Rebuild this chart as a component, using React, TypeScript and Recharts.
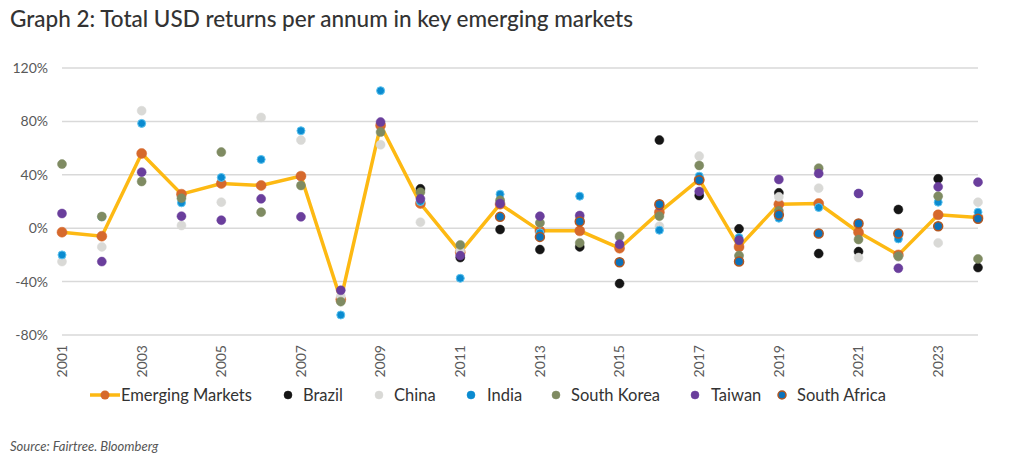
import React from "react";
import { ComposedChart, Line, XAxis, YAxis, CartesianGrid } from "recharts";

const years = [2001, 2002, 2003, 2004, 2005, 2006, 2007, 2008, 2009, 2010, 2011, 2012, 2013, 2014, 2015, 2016, 2017, 2018, 2019, 2020, 2021, 2022, 2023, 2024];
const emergingMarkets = [-3, -6, 56, 25.5, 33.5, 32, 39, -53.5, 77, 18.5, -18, 18, -2, -2, -15, 12, 36.5, -14, 18, 18.5, -3, -20, 10, 8];
const brazil: (number | null)[] = [null, null, null, null, null, null, null, null, null, 29.5, -22, -1, -16, -14, -41.5, 66, 24.5, -0.5, 26.5, -19, -17.5, 14, 37, -29.5];
const china = [-25, -14, 88, 2, 19.5, 83, 66, -51, 62.5, 4.5, -17, 20, 4, 8, -7, 1.5, 54, -21, 23.5, 30, -22, -21.5, -11, 19.5];
const india = [-20, 8.5, 78.5, 19, 38, 51.5, 73, -65, 103, 20, -37.5, 25.5, -3.5, 24, -25.5, -1.5, 39, -7, 7.5, 15.5, 26, -8, 19.5, 12];
const southKorea = [48, 8.75, 35, 22.5, 57, 12, 32, -55, 72, 27, -12.5, 21, 4, -11, -6, 9, 47, -20.5, 13, 45, -8.5, -21, 24, -23];
const taiwan = [11, -25, 42, 9, 6, 22, 8.5, -46.5, 79.5, 22, -20.5, 18.5, 9, 9.5, -12, 17, 27.5, -9, 36.5, 41, 26, -30, 31, 34.5];
const southAfrica: (number | null)[] = [null, null, null, null, null, null, null, null, null, null, null, 8.5, -6.5, 5, -25.5, 18, 36, -25, 10, -4, 3.5, -4, 1.5, 7];
const yTicks = [-80, -40, 0, 40, 80, 120];
const xTicks = [2001, 2003, 2005, 2007, 2009, 2011, 2013, 2015, 2017, 2019, 2021, 2023];

const data = years.map((y, i) => ({
  year: y,
  em: emergingMarkets[i],
  brazil: brazil[i],
  china: china[i],
  india: india[i],
  southKorea: southKorea[i],
  taiwan: taiwan[i],
  southAfrica: southAfrica[i],
}));

const FONT = "Lato, 'Open Sans', sans-serif";

const C = {
  emLine: "#FDB913",
  emDot: "#D6692C",
  brazil: "#151515",
  china: "#D9D9D6",
  india: "#0A8BD0",
  southKorea: "#7F8B62",
  taiwan: "#6A3E9C",
  saFill: "#0C72BA",
  saStroke: "#B3561F",
};

const XTick = (props: any) => {
  const { x, y, payload } = props;
  return (
    <text
      x={x}
      y={y}
      transform={`rotate(-90, ${x}, ${y})`}
      textAnchor="end"
      dy="0.35em"
      fill="#595959"
      fontSize={14}
      fontFamily={FONT}
    >
      {payload.value}
    </text>
  );
};

const legendItems = [
  { name: "Emerging Markets", dot: 105, text: 121, line: true },
  { name: "Brazil", dot: 288, text: 303, fill: C.brazil },
  { name: "China", dot: 379, text: 394, fill: C.china },
  { name: "India", dot: 471, text: 487, fill: C.india },
  { name: "South Korea", dot: 556, text: 571, fill: C.southKorea },
  { name: "Taiwan", dot: 695, text: 711, fill: C.taiwan },
  { name: "South Africa", dot: 782, text: 797, fill: C.saFill, stroke: C.saStroke },
];

const LEG_Y = 395;

export default function App() {
  return (
    <div style={{ position: "absolute", left: 0, top: 0, width: 1014, height: 465, background: "#fff", fontFamily: FONT }}>
      <div style={{ position: "absolute", left: 10, top: 5, fontSize: 22.5, lineHeight: "28px", color: "#333", fontWeight: 500, whiteSpace: "nowrap" }}>
        Graph 2: Total USD returns per annum in key emerging markets
      </div>
      <ComposedChart width={1014} height={465} data={data} margin={{ top: 68, right: 36, bottom: 90, left: 0 }}>
        <CartesianGrid vertical={false} stroke="#D9D9D9" strokeWidth={1.5} />
        <XAxis
          dataKey="year"
          type="number"
          domain={[2001, 2024]}
          ticks={xTicks}
          interval={0}
          axisLine={false}
          tickLine={false}
          height={40}
          tick={<XTick />}
          tickMargin={4}
        />
        <YAxis
          domain={[-80, 120]}
          ticks={yTicks}
          width={62}
          axisLine={false}
          tickLine={false}
          tickMargin={8}
          tickFormatter={(v: number) => `${v}%`}
          tick={{ fill: "#595959", fontSize: 14, fontFamily: FONT }}
        />
        <Line dataKey="em" stroke={C.emLine} strokeWidth={3.5} dot={{ r: 5, fill: C.emDot, stroke: C.emDot, strokeWidth: 0.5 }} activeDot={false} isAnimationActive={false} />
        <Line dataKey="brazil" stroke="none" dot={{ r: 4.5, fill: C.brazil, stroke: C.brazil, strokeWidth: 0.5 }} activeDot={false} isAnimationActive={false} />
        <Line dataKey="china" stroke="none" dot={{ r: 4.5, fill: C.china, stroke: C.china, strokeWidth: 0.5 }} activeDot={false} isAnimationActive={false} />
        <Line dataKey="india" stroke="none" dot={{ r: 4, fill: C.india, stroke: "#5EC3EE", strokeWidth: 1 }} activeDot={false} isAnimationActive={false} />
        <Line dataKey="southKorea" stroke="none" dot={{ r: 4.5, fill: C.southKorea, stroke: C.southKorea, strokeWidth: 0.5 }} activeDot={false} isAnimationActive={false} />
        <Line dataKey="taiwan" stroke="none" dot={{ r: 4.5, fill: C.taiwan, stroke: C.taiwan, strokeWidth: 0.5 }} activeDot={false} isAnimationActive={false} />
        <Line dataKey="southAfrica" stroke="none" dot={{ r: 4.5, fill: C.saFill, stroke: C.saStroke, strokeWidth: 1.5 }} activeDot={false} isAnimationActive={false} />
      </ComposedChart>
      <svg width={1014} height={30} style={{ position: "absolute", left: 0, top: LEG_Y - 15 }}>
        {legendItems.map((it) =>
          it.line ? (
            <g key={it.name}>
              <line x1={90} y1={15} x2={120} y2={15} stroke={C.emLine} strokeWidth={3.5} />
              <circle cx={it.dot} cy={15} r={4.5} fill={C.emDot} />
            </g>
          ) : (
            <circle key={it.name} cx={it.dot} cy={15} r={4} fill={it.fill} stroke={it.stroke || it.fill} strokeWidth={it.stroke ? 1.5 : 0.5} />
          )
        )}
      </svg>
      {legendItems.map((it) => (
        <div key={it.name + "t"} style={{ position: "absolute", left: it.text, top: LEG_Y - 11, lineHeight: "22px", fontSize: 16.5, color: "#333", whiteSpace: "nowrap" }}>
          {it.name}
        </div>
      ))}
      <div style={{ position: "absolute", left: 10, top: 438, fontSize: 13, fontStyle: "italic", color: "#555" }}>
        Source: Fairtree. Bloomberg
      </div>
    </div>
  );
}
